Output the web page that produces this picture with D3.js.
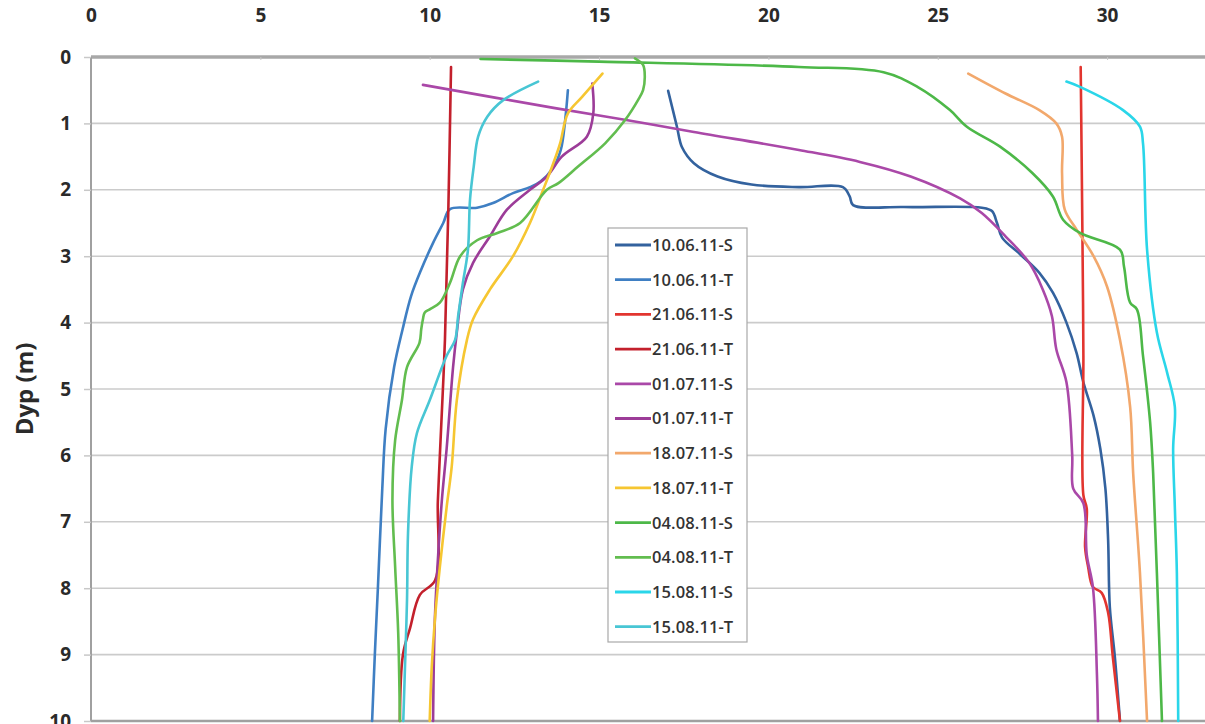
<!DOCTYPE html>
<html>
<head>
<meta charset="utf-8">
<script src="https://cdn.jsdelivr.net/npm/d3@7"></script>
<style>
  html, body { margin: 0; padding: 0; background: #ffffff; }
  svg { display: block; }
</style>
</head>
<body>
<svg id="chart" width="1205" height="724"></svg>
<script>
// ---- Data: each series is a list of [value, depth (m)] ----
const seriesNames = ["10.06.11-S","10.06.11-T","21.06.11-S","21.06.11-T","01.07.11-S","01.07.11-T",
                     "18.07.11-S","18.07.11-T","04.08.11-S","04.08.11-T","15.08.11-S","15.08.11-T"];
const seriesColors = ["#33629e","#3f7fc3","#e2352f","#c3202c","#aa48a8","#9c3c98",
                      "#f2a86c","#f6c631","#4db848","#62bd4f","#2ad6e9","#48c6d4"];

const s100611S = [[17.04,0.51],[17.3,1.05],[17.45,1.36],[17.8,1.6],[18.5,1.8],[19.5,1.92],[20.9,1.96],[22.2,1.96],[22.4,2.1],[22.5,2.23],[24,2.26],[26.3,2.27],[26.6,2.32],[26.75,2.5],[26.9,2.72],[27.43,2.97],[28.0,3.25],[28.4,3.55],[28.8,4.0],[29.1,4.46],[29.3,4.9],[29.6,5.4],[29.8,5.9],[29.95,6.5],[30.03,7.27],[30.08,8.28],[30.23,9.04],[30.38,10]];
const s100611T = [[14.08,0.5],[14.0,0.95],[13.87,1.4],[13.64,1.67],[13.26,1.88],[12.96,1.96],[12.46,2.05],[11.87,2.2],[11.4,2.27],[10.6,2.29],[10.4,2.5],[10.1,2.8],[9.75,3.2],[9.45,3.6],[9.2,4.1],[8.95,4.67],[8.7,5.6],[8.6,6.5],[8.47,8.0],[8.38,9.0],[8.3,10]];
const s210611S = [[29.22,0.15],[29.27,2.6],[29.3,4.5],[29.3,6.6],[29.4,6.8],[29.35,7.38],[29.44,7.68],[29.58,7.98],[29.84,8.07],[30.03,8.37],[30.17,9.04],[30.38,10]];
const s210611T = [[10.63,0.15],[10.55,2.3],[10.45,4.26],[10.3,6.0],[10.24,6.7],[10.16,7.88],[9.71,8.1],[9.42,8.6],[9.21,9.0],[9.12,10]];
const s010711S = [[9.8,0.42],[13.7,0.77],[15.8,0.95],[17.8,1.13],[20.9,1.4],[22.7,1.58],[24.2,1.8],[25.66,2.13],[26.3,2.35],[27.0,2.7],[27.7,3.1],[28.1,3.5],[28.37,3.9],[28.5,4.4],[28.8,4.9],[28.97,6.0],[29.0,6.5],[29.3,6.72],[29.4,7.5],[29.58,7.98],[29.7,9.3],[29.73,10]];
const s010711T = [[14.8,0.4],[14.83,0.85],[14.64,1.2],[13.9,1.5],[13.46,1.8],[12.96,2.0],[12.28,2.3],[11.78,2.7],[11.28,3.1],[10.98,3.5],[10.8,4.15],[10.69,4.67],[10.5,5.9],[10.36,6.67],[10.25,7.5],[10.15,8.5],[10.1,10]];
const s180711S = [[25.9,0.25],[27.0,0.55],[28.0,0.8],[28.5,1.0],[28.67,1.2],[28.67,1.75],[28.75,2.3],[29.1,2.6],[29.6,3.0],[30.0,3.46],[30.38,4.26],[30.68,5.27],[30.77,6.27],[30.97,7.77],[31.18,10]];
const s180711T = [[15.1,0.25],[14.5,0.6],[14.08,0.85],[13.85,1.3],[13.65,1.6],[13.35,2.0],[12.96,2.5],[12.46,3.0],[11.78,3.5],[11.28,3.95],[11.1,4.26],[10.8,5.17],[10.65,6.17],[10.5,6.78],[10.3,7.68],[10.16,8.43],[10.06,9.19],[10.0,10]];
const s040811S = [[11.5,0.03],[15,0.07],[20.9,0.15],[23.4,0.23],[24.4,0.45],[25.36,0.8],[25.86,1.05],[26.84,1.35],[27.8,1.75],[28.4,2.1],[28.7,2.45],[29.2,2.65],[30.38,2.9],[30.5,3.16],[30.68,3.7],[30.88,3.8],[31.06,4.5],[31.27,5.5],[31.36,6.27],[31.47,7.77],[31.62,10]];
const s040811T = [[16.06,0.02],[16.3,0.12],[16.35,0.3],[16.3,0.5],[16.15,0.65],[15.77,0.95],[15.18,1.3],[14.38,1.65],[13.8,1.9],[13.46,2.0],[12.67,2.5],[12.0,2.65],[11.4,2.76],[10.9,3.0],[10.6,3.4],[10.3,3.7],[10.0,3.8],[9.85,3.85],[9.8,3.95],[9.75,4.1],[9.7,4.3],[9.33,4.67],[9.18,5.17],[8.98,5.77],[8.9,6.67],[8.98,7.68],[9.07,8.67],[9.12,10]];
const s150811S = [[28.8,0.37],[29.2,0.45],[30.47,0.8],[30.97,1.05],[31.06,1.3],[31.18,2.9],[31.47,4.15],[31.77,4.75],[32.0,5.27],[31.95,5.9],[32.0,6.78],[32.06,7.77],[32.1,10]];
const s150811T = [[13.2,0.37],[12.17,0.65],[11.7,0.9],[11.43,1.2],[11.3,1.65],[11.19,2.15],[11.13,2.9],[10.98,3.4],[10.84,3.9],[10.75,4.26],[10.5,4.5],[10.0,5.17],[9.62,5.67],[9.47,6.17],[9.36,7.17],[9.33,8.18],[9.27,9.19],[9.22,10]];

const seriesData = [s100611S,s100611T,s210611S,s210611T,s010711S,s010711T,
                    s180711S,s180711T,s040811S,s040811T,s150811S,s150811T];

const xTicks = [0,5,10,15,20,25,30];
const yTicks = [0,1,2,3,4,5,6,7,8,9,10];
const yTitle = "Dyp (m)";

// ---- Drawing ----
const svg = d3.select("#chart");
const x = d3.scaleLinear().domain([0, 35]).range([91, 91 + 35 * 33.87]);
const y = d3.scaleLinear().domain([0, 10]).range([57, 721]);
const font = "'Open Sans', 'Liberation Sans', sans-serif";

// horizontal gridlines
svg.append("g").selectAll("line").data(yTicks.filter(d => d > 0 && d < 10)).join("line")
  .attr("x1", x(0)).attr("x2", 1205)
  .attr("y1", d => y(d)).attr("y2", d => y(d))
  .attr("stroke", "#cbcbcb").attr("stroke-width", 1.6);

// top axis
const topAxis = svg.append("g").attr("transform", `translate(0,${y(0)})`)
  .call(d3.axisTop(x).tickValues(xTicks).tickSize(4).tickPadding(31));
topAxis.select(".domain").attr("stroke", "#a8a8a8").attr("stroke-width", 3.5)
  .attr("d", `M${x(0)},0H1205`);
topAxis.selectAll(".tick line").attr("stroke", "#c8c8c8").attr("stroke-width", 1).attr("y2", 3);
topAxis.selectAll(".tick text").attr("font-family", font).attr("font-weight", 700)
  .attr("font-size", 19).attr("fill", "#2a2a2a");

// left axis
const leftAxis = svg.append("g").attr("transform", `translate(${x(0)},0)`)
  .call(d3.axisLeft(y).tickValues(yTicks).tickSize(7).tickPadding(13));
leftAxis.select(".domain").attr("stroke", "#a0a0a0").attr("stroke-width", 2)
  .attr("d", `M0,${y(0)}V${y(10)}`);
leftAxis.selectAll(".tick line").attr("stroke", "#c8c8c8").attr("stroke-width", 1.5);
leftAxis.selectAll(".tick text").attr("font-family", font).attr("font-weight", 700)
  .attr("font-size", 19).attr("fill", "#2a2a2a");

// bottom line
svg.append("line").attr("x1", x(0)).attr("x2", 1205).attr("y1", y(10)).attr("y2", y(10))
  .attr("stroke", "#a0a0a0").attr("stroke-width", 2.5);

// y title
svg.append("text")
  .attr("transform", `translate(33,${(y(0) + y(10)) / 2}) rotate(-90)`)
  .attr("text-anchor", "middle")
  .attr("font-family", font).attr("font-weight", 700).attr("font-size", 24).attr("fill", "#2a2a2a")
  .text(yTitle);

// series lines
const line = d3.line().x(d => x(d[0])).y(d => y(d[1])).curve(d3.curveCatmullRom.alpha(0.5));
svg.append("g").selectAll("path").data(seriesData).join("path")
  .attr("d", d => line(d))
  .attr("fill", "none")
  .attr("stroke", (d, i) => seriesColors[i])
  .attr("stroke-width", 2.6)
  .attr("stroke-linejoin", "round").attr("stroke-linecap", "round");

// legend
const lg = svg.append("g").attr("transform", "translate(608,228)");
lg.append("rect").attr("x", 0).attr("y", 0).attr("width", 139).attr("height", 414)
  .attr("fill", "#fff").attr("stroke", "#a8a8a8").attr("stroke-width", 1.2);
const items = lg.selectAll("g.item").data(seriesNames).join("g").attr("class", "item")
  .attr("transform", (d, i) => `translate(0,${17 + i * 34.7})`);
items.append("line").attr("x1", 7).attr("x2", 43).attr("y1", 0).attr("y2", 0)
  .attr("stroke", (d, i) => seriesColors[i]).attr("stroke-width", 2.8);
items.append("text").attr("x", 44).attr("y", 0).attr("dy", "0.36em")
  .attr("font-family", font).attr("font-size", 16.5).attr("font-weight", 600)
  .attr("letter-spacing", 0.1)
  .attr("fill", "#333").text(d => d);
</script>
</body>
</html>
